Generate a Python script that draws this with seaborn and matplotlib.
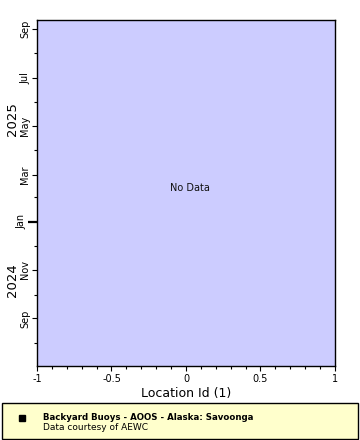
import matplotlib
matplotlib.use("Agg")
import matplotlib.pyplot as plt
import matplotlib.dates as mdates
from matplotlib.patches import Rectangle
from matplotlib.lines import Line2D
import seaborn as sns
import pandas as pd

# ---- data (no observations available) ----
location_ids = []
times = []
x_limits = [-1, 1]
x_ticks = [-1, -0.5, 0, 0.5, 1]
x_tick_labels = ["-1", "-0.5", "0", "0.5", "1"]
time_start = "2024-07-03"
time_end = "2025-09-12"
year_labels = ["2025", "2024"]
title_text = "Backyard Buoys - AOOS - Alaska: Savoonga"
credit_text = "Data courtesy of AEWC"
x_label = "Location Id (1)"
no_data_text = "No Data"

df = pd.DataFrame({"location": pd.Series(location_ids, dtype=float),
                   "time": pd.to_datetime(pd.Series(times, dtype="datetime64[ns]"))})

sns.set_style("ticks")
plt.rcParams["font.family"] = ["DejaVu Sans"]
plt.rcParams["text.color"] = "black"
plt.rcParams["axes.labelcolor"] = "black"

fig = plt.figure(figsize=(3.6, 4.4), dpi=100)
ax = fig.add_axes([37/360, 1-366/440, (335-37)/360, (366-20)/440])
ax.set_facecolor("#ccccff")

sns.scatterplot(data=df, x="location", y="time", ax=ax, color="black", marker="s")

ax.set_xlim(*x_limits)
ax.set_ylim(pd.Timestamp(time_start), pd.Timestamp(time_end))
ax.set_xticks(x_ticks)
ax.set_xticklabels(x_tick_labels)
ax.xaxis.set_minor_locator(matplotlib.ticker.MultipleLocator(0.1))

ax.yaxis.set_major_locator(mdates.MonthLocator(bymonth=[1, 3, 5, 7, 9, 11]))
ax.yaxis.set_minor_locator(mdates.MonthLocator())
ax.yaxis.set_major_formatter(mdates.DateFormatter("%b"))

for s in ax.spines.values():
    s.set_color("black")
    s.set_linewidth(1)

ax.tick_params(axis="both", which="major", length=3.6, width=0.8, color="black",
               labelsize=7, direction="out", labelcolor="black")
ax.tick_params(axis="x", which="major", pad=2)
ax.tick_params(axis="y", which="major", pad=1.4)
ax.tick_params(axis="both", which="minor", length=2.2, width=0.8, color="black", direction="out")

# thick tick at the year boundary
fig.canvas.draw()
for t in ax.yaxis.get_major_ticks():
    d = mdates.num2date(t.get_loc())
    if d.month == 1:
        t._apply_params(size=6.5, width=1.6)
for lab in ax.get_yticklabels():
    lab.set_rotation(90)
    lab.set_ha("right")
    lab.set_va("center")

ax.set_xlabel(x_label, fontsize=9, labelpad=2, color="black")
ax.set_ylabel("")

fig.text(190/360, 1-188/440, no_data_text, ha="center", va="center",
         fontsize=7, color="#111111")

# year labels
fig.text(13/360, 1-119/440, year_labels[0], rotation=90, ha="center", va="center", fontsize=9.5)
fig.text(13/360, 1-280/440, year_labels[1], rotation=90, ha="center", va="center", fontsize=9.5)

# legend box
fig.patches.append(Rectangle((2/360, 1-439/440), 356/360, 36/440, transform=fig.transFigure,
                             facecolor="#ffffcc", edgecolor="black", linewidth=1))
fig.lines.append(Line2D([22/360], [1-418/440], transform=fig.transFigure, marker="s",
                        markersize=4.5, color="black", linestyle="none"))
fig.text(43/360, 1-417/440, title_text, fontsize=6.2, fontweight="bold", va="center", ha="left")
fig.text(43/360, 1-427/440, credit_text, fontsize=6.5, va="center", ha="left")

fig.savefig("out.png", dpi=100)
